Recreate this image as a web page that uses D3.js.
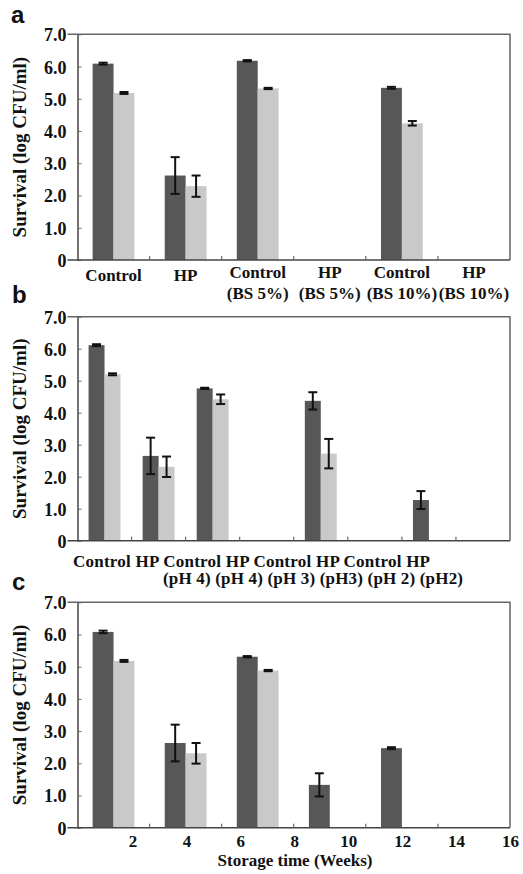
<!DOCTYPE html>
<meta charset="utf-8">
<style>
body { margin: 0; background: #fff; overflow: hidden; }
text { font-family: "Liberation Serif", "Times New Roman", serif; font-weight: bold; fill: #111; }
.panel-letter { font-family: "Liberation Sans", Arial, sans-serif; font-size: 24px; }
.ytick text { font-size: 18px; }
.ytitle { font-size: 19px; }
.catlabel { font-size: 17px; }
</style>
<div id="chart"></div>
<script src="https://cdn.jsdelivr.net/npm/d3@7"></script>
<script>

// ---- data ----
var yTicks = [0, 1, 2, 3, 4, 5, 6, 7];

// panel a : bile salt
var groupsA = ["Control", "HP", "Control (BS 5%)", "HP (BS 5%)", "Control (BS 10%)", "HP (BS 10%)"];
var labelsA = [["Control"], ["HP"], ["Control", "(BS 5%)"], ["HP", "(BS 5%)"], ["Control", "(BS 10%)"], ["HP", "(BS 10%)"]];
var darkA = [6.09, 2.62, 6.18, null, 5.34, null];
var darkErrA = [0.03, 0.57, 0.02, null, 0.03, null];
var lightA = [5.18, 2.29, 5.32, null, 4.24, null];
var lightErrA = [0.03, 0.33, 0.02, null, 0.07, null];

// panel b : pH
var groupsB = ["Control", "HP", "Control (pH 4)", "HP (pH 4)", "Control (pH 3)", "HP (pH3)", "Control (pH 2)", "HP (pH2)"];
var labelLine1B = "Control HP Control HP Control HP Control HP";
var labelLine2B = "(pH 4) (pH 4) (pH 3) (pH3) (pH 2) (pH2)";
var darkB = [6.11, 2.65, 4.76, null, 4.37, null, 1.27, null];
var darkErrB = [0.03, 0.57, 0.02, null, 0.27, null, 0.28, null];
var lightB = [5.2, 2.31, 4.42, null, 2.72, null, null, null];
var lightErrB = [0.03, 0.32, 0.15, null, 0.46, null, null, null];

// panel c : storage time
var groupsC = ["g1", "g2", "g3", "g4", "g5", "g6"];
var weekTicks = [2, 4, 6, 8, 10, 12, 14, 16];
var darkC = [6.08, 2.63, 5.31, 1.33, 2.47, null];
var darkErrC = [0.04, 0.57, 0.02, 0.36, 0.03, null];
var lightC = [5.18, 2.31, 4.88, null, null, null];
var lightErrC = [0.03, 0.32, 0.02, null, null, null];

// ---- layout ----
var W = 523, H = 874;
var x0 = 77.5, x1 = 510;
var darkColor = "#575757", lightColor = "#c9c9c9";

var svg = d3.select("#chart").append("svg")
    .attr("width", W)
    .attr("height", H);

function drawPanel(p) {
    var g = svg.append("g");

    var y = d3.scaleLinear().domain([0, 7]).range([p.bottom, p.top]);

    var pi = p.pad;
    var xg = d3.scaleBand().domain(p.groups).range([x0, x1])
        .paddingInner(pi).paddingOuter(pi / 2);
    var xs = d3.scaleBand().domain(["dark", "light"]).range([0, xg.bandwidth()]);

    // one row per bar
    var rows = [];
    p.groups.forEach(function(grp, i) {
        if (p.dark[i] != null) rows.push({g: grp, s: "dark", v: p.dark[i], e: p.darkErr[i]});
        if (p.light[i] != null) rows.push({g: grp, s: "light", v: p.light[i], e: p.lightErr[i]});
    });

    g.selectAll("rect.bar").data(rows).enter().append("rect")
        .attr("class", "bar")
        .attr("x", (d) => xg(d.g) + xs(d.s))
        .attr("width", xs.bandwidth())
        .attr("y", (d) => y(d.v))
        .attr("height", (d) => y(0) - y(d.v))
        .attr("fill", (d) => d.s == "dark" ? darkColor : lightColor);

    // error bars
    var cap = 4.5;
    var eb = g.selectAll("g.err").data(rows).enter().append("g")
        .attr("class", "err")
        .attr("transform", (d) => `translate(${xg(d.g) + xs(d.s) + xs.bandwidth() / 2},0)`)
        .attr("stroke", "#111").attr("stroke-width", 2);
    eb.append("line").attr("x1", 0).attr("x2", 0)
        .attr("y1", (d) => y(d.v + d.e)).attr("y2", (d) => y(d.v - d.e));
    eb.append("line").attr("x1", -cap).attr("x2", cap)
        .attr("y1", (d) => y(d.v + d.e)).attr("y2", (d) => y(d.v + d.e));
    eb.append("line").attr("x1", -cap).attr("x2", cap)
        .attr("y1", (d) => y(d.v - d.e)).attr("y2", (d) => y(d.v - d.e));

    // frame: top and right borders
    g.append("path")
        .attr("d", `M${x0 - 10},${p.top}H${x1}V${p.bottom}`)
        .attr("fill", "none").attr("stroke", "#666").attr("stroke-width", 1.5);

    // y axis
    var yAxis = g.append("g")
        .attr("class", "ytick")
        .attr("transform", `translate(${x0},0)`)
        .call(d3.axisLeft(y).tickValues(yTicks)
            .tickFormat((d) => d == 0 ? "0" : d3.format(".1f")(d))
            .tickSizeInner(-4).tickSizeOuter(0).tickPadding(11));
    yAxis.select(".domain").attr("stroke", "#444").attr("stroke-width", 1.5);
    yAxis.selectAll(".tick line").attr("stroke", "#666");
    yAxis.selectAll(".tick text").attr("dy", "0.36em");

    // bottom axis line
    g.append("line")
        .attr("x1", x0 - 10).attr("x2", x1)
        .attr("y1", p.bottom).attr("y2", p.bottom)
        .attr("stroke", "#444").attr("stroke-width", 1.5);

    // small inner ticks between groups
    g.selectAll("line.gtick").data(p.groups.slice(1)).enter().append("line")
        .attr("class", "gtick")
        .attr("x1", (d) => xg(d) - xg.step() * pi / 2)
        .attr("x2", (d) => xg(d) - xg.step() * pi / 2)
        .attr("y1", p.bottom).attr("y2", p.bottom - 4)
        .attr("stroke", "#666").attr("stroke-width", 1.2);

    // y title
    g.append("text")
        .attr("class", "ytitle")
        .attr("transform", `translate(26,${(p.top + p.bottom) / 2})rotate(-90)`)
        .attr("text-anchor", "middle")
        .text("Survival (log CFU/ml)");

    // panel letter
    g.append("text")
        .attr("class", "panel-letter")
        .attr("x", p.letterX).attr("y", p.letterY)
        .text(p.letter);

    return {g: g, xg: xg, y: y};
}

// ---- panel a ----
var pa = drawPanel({
    groups: groupsA, dark: darkA, darkErr: darkErrA, light: lightA, lightErr: lightErrA,
    top: 34.3, bottom: 260, pad: 0.42, letter: "a", letterX: 11, letterY: 23
});
var labA = pa.g.selectAll("text.cat").data(groupsA).enter().append("text")
    .attr("class", "catlabel")
    .attr("text-anchor", "middle")
    .attr("x", (d) => pa.xg(d) + pa.xg.bandwidth() / 2);
labA.selectAll("tspan").data((d, i) => labelsA[i].map((t, j) => ({t: t, j: j, n: labelsA[i].length}))).enter()
    .append("tspan")
    .attr("x", function() { return d3.select(this.parentNode).attr("x"); })
    .attr("y", (d) => d.j == 0 ? (d.n > 1 ? 278 : 281) : 299)
    .text((d) => d.t);

// ---- panel b ----
var pb = drawPanel({
    groups: groupsB, dark: darkB, darkErr: darkErrB, light: lightB, lightErr: lightErrB,
    top: 316.7, bottom: 540.7, pad: 0.41, letter: "b", letterX: 12, letterY: 303
});
pb.g.append("text").attr("class", "catlabel")
    .attr("x", 73).attr("y", 567)
    .attr("textLength", 357).attr("lengthAdjust", "spacing")
    .text(labelLine1B);
pb.g.append("text").attr("class", "catlabel")
    .attr("x", 163).attr("y", 584)
    .attr("textLength", 300).attr("lengthAdjust", "spacing")
    .text(labelLine2B);

// ---- panel c ----
var pc = drawPanel({
    groups: groupsC, dark: darkC, darkErr: darkErrC, light: lightC, lightErr: lightErrC,
    top: 602.3, bottom: 827.7, pad: 0.42, letter: "c", letterX: 12, letterY: 590
});
var xw = d3.scaleLinear().domain([0, 16]).range([x0 + 1, x1]);
var wAxis = pc.g.append("g")
    .attr("class", "catlabel")
    .attr("transform", `translate(0,${pc.y(0)})`)
    .call(d3.axisBottom(xw).tickValues(weekTicks).tickSize(0).tickPadding(7));
wAxis.select(".domain").remove();
wAxis.selectAll("text").style("font-size", "17px").style("font-family", "'Liberation Serif', serif")
    .style("font-weight", "bold").attr("fill", "#111");
pc.g.append("text").attr("class", "catlabel")
    .attr("x", 295).attr("y", 866)
    .attr("text-anchor", "middle")
    .text("Storage time (Weeks)");

</script>
